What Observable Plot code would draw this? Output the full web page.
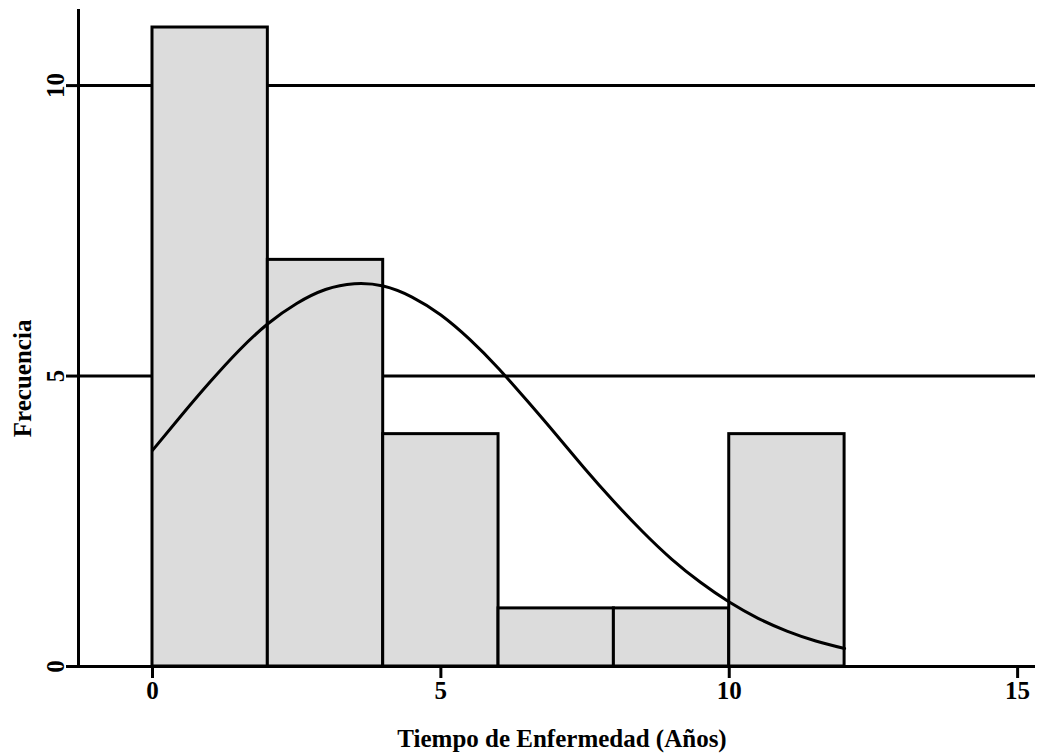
<!DOCTYPE html>
<html>
<head>
<meta charset="utf-8">
<script src="https://cdn.jsdelivr.net/npm/d3@7"></script>
<script src="https://cdn.jsdelivr.net/npm/@observablehq/plot@0.6"></script>
<style>
  html, body { margin: 0; padding: 0; background: #fff; }
  svg { display: block; }
</style>
</head>
<body>
<div id="chart"></div>
<script>
// Histogram bins (years) and frequencies
const binStart = [0, 2, 4, 6, 8, 10];
const binEnd   = [2, 4, 6, 8, 10, 12];
const freq     = [11, 7, 4, 1, 1, 4];

// Fitted normal curve
const curveX = [0, 0.5, 1, 1.5, 2, 2.5, 3, 3.5, 4, 4.5, 5, 5.5, 6, 6.5, 7, 7.5, 8, 8.5, 9, 9.5, 10, 10.5, 11, 11.5, 12];
const curveY = [3.72, 4.32, 4.90, 5.44, 5.90, 6.25, 6.49, 6.59, 6.55, 6.36, 6.05, 5.63, 5.13, 4.57, 3.99, 3.40, 2.84, 2.32, 1.85, 1.45, 1.11, 0.83, 0.61, 0.44, 0.31];

const xTicks = [0, 5, 10, 15];
const yTicks = [0, 5, 10];
const gridY = [5, 10];
const xLabel = "Tiempo de Enfermedad (Años)";
const yLabel = "Frecuencia";

const xDomain = [-1.283, 15.31];
const yDomain = [0, 11.31];

const bars = binStart.map((s, i) => ({x1: s, x2: binEnd[i], y: freq[i]}));
const curve = curveX.map((x, i) => ({x, y: curveY[i]}));

const font = "'Liberation Serif', 'Times New Roman', Times, serif";
const fs = 25;

const chart = Plot.plot({
  width: 1040,
  height: 755,
  marginLeft: 78,
  marginRight: 5,
  marginTop: 9,
  marginBottom: 89,
  style: {fontFamily: font, background: "#fff"},
  x: {domain: xDomain, ticks: xTicks},
  y: {domain: yDomain, ticks: yTicks},
  marks: [
    // gridlines behind bars
    Plot.ruleY(gridY, {x1: xDomain[0], x2: xDomain[1], stroke: "black", strokeWidth: 3}),
    // bars
    Plot.rectY(bars, {x1: "x1", x2: "x2", y: "y", fill: "#dcdcdc", stroke: "black", strokeWidth: 3}),
    // curve
    Plot.line(curve, {x: "x", y: "y", stroke: "black", strokeWidth: 3, curve: "natural"}),
    // axis lines
    Plot.ruleX([xDomain[0]], {y1: yDomain[0], y2: yDomain[1], stroke: "black", strokeWidth: 3}),
    Plot.ruleY([0], {x1: xDomain[0], x2: xDomain[1], stroke: "black", strokeWidth: 3}),
    // ticks
    Plot.axisX({ticks: xTicks, tickSize: 12, strokeWidth: 3, tickFormat: () => "", label: null}),
    Plot.axisY({ticks: yTicks, tickSize: 12, strokeWidth: 3, tickFormat: () => "", label: null}),
    // tick labels
    Plot.text(xTicks, {x: d => d, y: 0, text: d => String(d), dy: 24, fontSize: fs, fontWeight: "bold", fill: "black", lineAnchor: "middle"}),
    Plot.text(yTicks, {x: xDomain[0], y: d => d, text: d => String(d), dx: -23, rotate: -90, fontSize: fs, fontWeight: "bold", fill: "black", lineAnchor: "middle"}),
    // axis titles
    Plot.text([xLabel], {x: 7.1, y: 0, text: d => d, dy: 72, fontSize: fs, fontWeight: "bold", fill: "black", lineAnchor: "middle"}),
    Plot.text([yLabel], {x: xDomain[0], y: 4.96, text: d => d, dx: -56, rotate: -90, fontSize: fs, fontWeight: "bold", fill: "black", lineAnchor: "middle"})
  ]
});

document.getElementById("chart").appendChild(chart);
</script>
</body>
</html>
